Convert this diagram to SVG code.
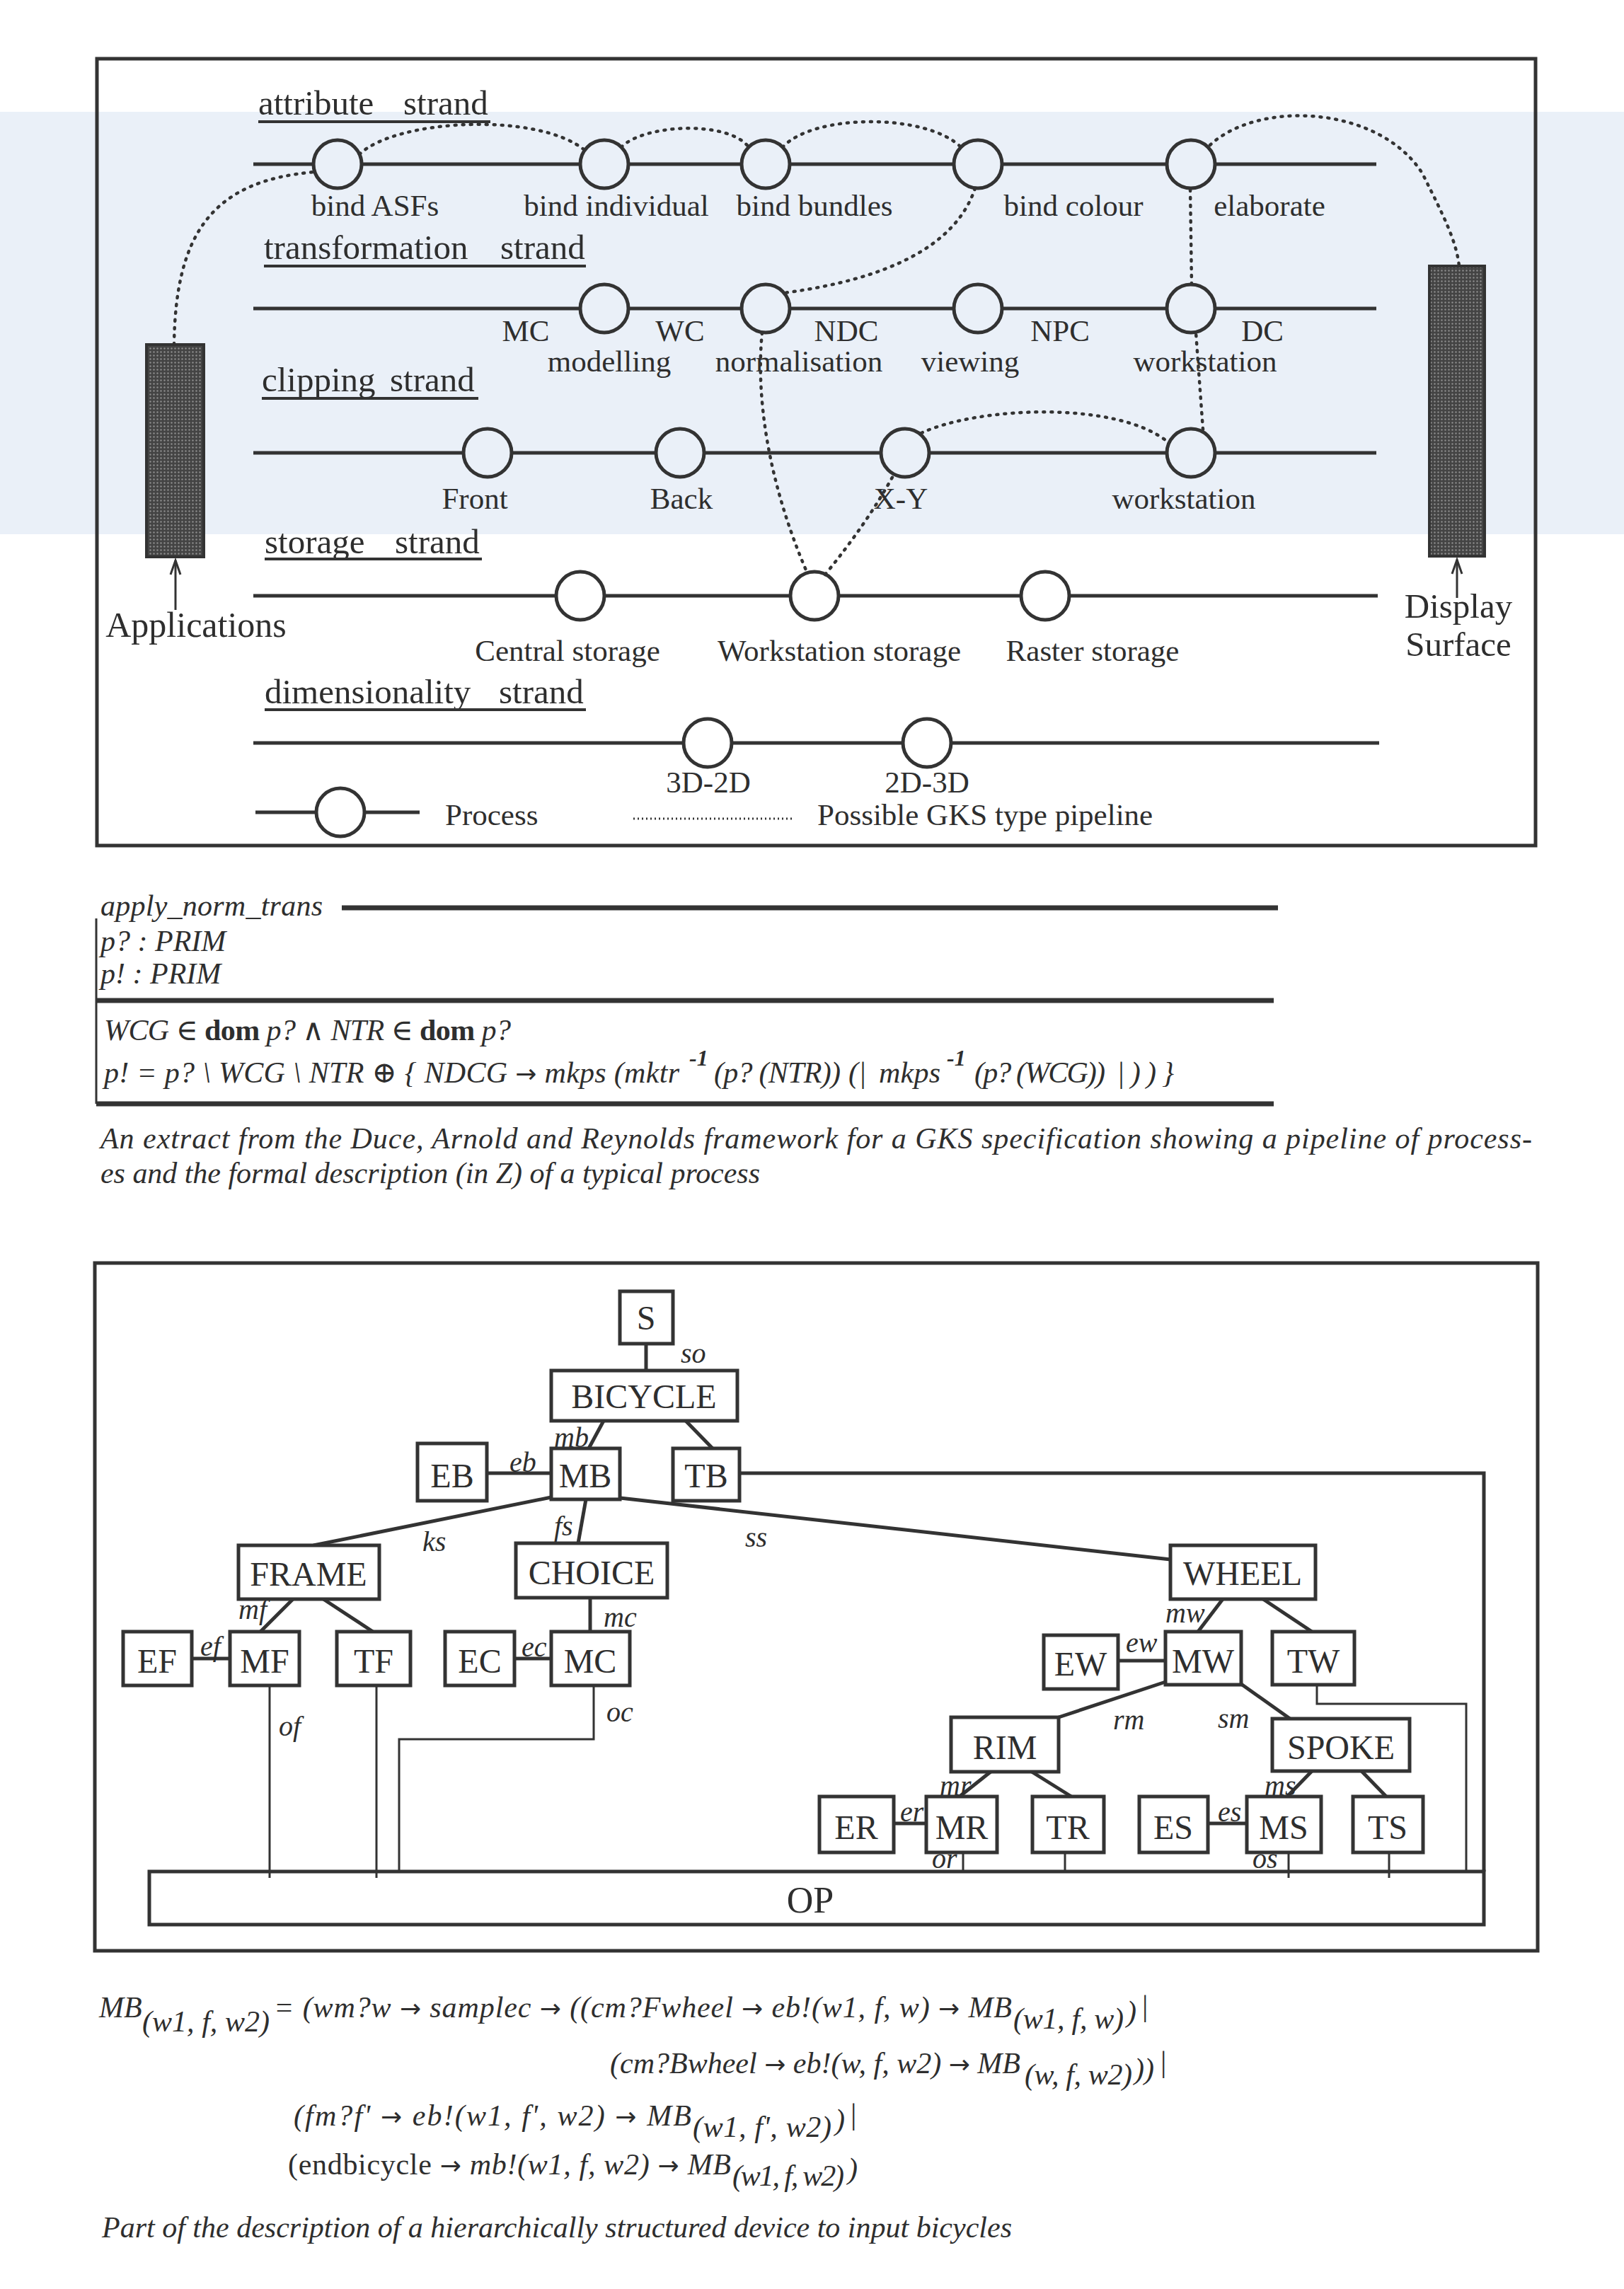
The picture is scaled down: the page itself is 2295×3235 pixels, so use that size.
<svg xmlns="http://www.w3.org/2000/svg" width="2295" height="3235" viewBox="0 0 2295 3235">
<defs>
<style>
.t{font-family:"Liberation Serif","DejaVu Serif",serif;fill:#2e2e2e}
.lab{font-size:43px}
.hd{font-size:49px}
.big{font-size:50px}
.z{font-size:42px;font-style:italic}
.nd{font-size:48px;text-anchor:middle}
.el{font-size:40px;font-style:italic}
.mid{text-anchor:middle}
.ar{font-family:"DejaVu Sans",sans-serif;font-style:normal;font-size:36px}
.ln{stroke:#333;stroke-width:5;fill:none}
.ul{stroke:#333;stroke-width:4}
.thin{stroke:#333;stroke-width:3;fill:none}
.proc{stroke:#333;stroke-width:5;fill:#eaf0f8}
.procw{stroke:#333;stroke-width:5;fill:#fff}
.dot{stroke:#333;stroke-width:4.5;fill:none;stroke-dasharray:2 9;stroke-linecap:round}
.nb{fill:#fff;stroke:#333;stroke-width:5}
.rule{stroke:#333;stroke-width:7}
.b{font-weight:bold;font-style:normal}
.sup{font-size:32px;font-weight:bold}
</style>
<pattern id="hatch" width="5" height="5" patternUnits="userSpaceOnUse">
<rect width="5" height="5" fill="#444"/>
<circle cx="2.5" cy="2.5" r="1.2" fill="#8c8c8c"/>
</pattern>
<marker id="ah" markerUnits="userSpaceOnUse" markerWidth="30" markerHeight="30" refX="0" refY="0" orient="auto" overflow="visible">
<path d="M-20,-7 L0,0 L-20,7" fill="none" stroke="#333" stroke-width="3"/>
</marker>
</defs>
<rect width="2295" height="3235" fill="#fff"/>
<rect x="0" y="158" width="2295" height="597" fill="#eaf0f8"/>

<!-- ================= TOP DIAGRAM ================= -->
<rect x="137" y="83" width="2033" height="1112" fill="none" stroke="#333" stroke-width="5"/>

<g id="headings" class="t hd">
<text x="365" y="162">attribute</text><text x="570" y="162">strand</text>
<text x="373" y="366">transformation</text><text x="707" y="366">strand</text>
<text x="370" y="553">clipping</text><text x="551" y="553">strand</text>
<text x="374" y="782">storage</text><text x="558" y="782">strand</text>
<text x="374" y="994">dimensionality</text><text x="705" y="994">strand</text>
</g>
<g id="underlines" class="ul">
<line x1="365" y1="172" x2="693" y2="172"/>
<line x1="373" y1="376" x2="828" y2="376"/>
<line x1="370" y1="563" x2="676" y2="563"/>
<line x1="374" y1="790" x2="681" y2="790"/>
<line x1="374" y1="1003" x2="828" y2="1003"/>
</g>

<g id="connectors">
<line class="ln" x1="358" y1="232" x2="1945" y2="232"/>
<line class="ln" x1="358" y1="436" x2="1945" y2="436"/>
<line class="ln" x1="358" y1="640" x2="1945" y2="640"/>
<line class="ln" x1="358" y1="842" x2="1947" y2="842"/>
<line class="ln" x1="358" y1="1050" x2="1949" y2="1050"/>
<line class="ln" x1="361" y1="1148" x2="593" y2="1148"/>
<line x1="248" y1="862" x2="248" y2="792" stroke="#333" stroke-width="3" marker-end="url(#ah)"/>
<line x1="2059" y1="845" x2="2059" y2="791" stroke="#333" stroke-width="3" marker-end="url(#ah)"/>
</g>

<g id="applications">
<rect x="207" y="487" width="81" height="300" fill="url(#hatch)" stroke="#333" stroke-width="4"/>
<text class="t big mid" x="277" y="900">Applications</text>
</g>
<g id="display-surface">
<rect x="2020" y="376" width="78" height="410" fill="url(#hatch)" stroke="#333" stroke-width="4"/>
<text class="t hd mid" x="2061" y="873">Display</text>
<text class="t hd mid" x="2061" y="927">Surface</text>
</g>

<g class="t lab mid">
<g id="bind-asfs"><circle class="proc" cx="477" cy="232" r="34"/><text x="530" y="305">bind ASFs</text></g>
<g id="bind-individual"><circle class="proc" cx="854" cy="232" r="34"/><text x="871" y="305">bind individual</text></g>
<g id="bind-bundles"><circle class="proc" cx="1082" cy="232" r="34"/><text x="1151" y="305">bind bundles</text></g>
<g id="bind-colour"><circle class="proc" cx="1382" cy="232" r="34"/><text x="1517" y="305">bind colour</text></g>
<g id="elaborate"><circle class="proc" cx="1683" cy="232" r="34"/><text x="1794" y="305">elaborate</text></g>

<g id="modelling"><circle class="proc" cx="854" cy="436" r="34"/><text x="743" y="482">MC</text><text x="961" y="482">WC</text><text x="861" y="525">modelling</text></g>
<g id="normalisation"><circle class="proc" cx="1082" cy="436" r="34"/><text x="1196" y="482">NDC</text><text x="1129" y="525">normalisation</text></g>
<g id="viewing"><circle class="proc" cx="1382" cy="436" r="34"/><text x="1498" y="482">NPC</text><text x="1371" y="525">viewing</text></g>
<g id="workstation-t"><circle class="proc" cx="1683" cy="436" r="34"/><text x="1784" y="482">DC</text><text x="1703" y="525">workstation</text></g>

<g id="front"><circle class="proc" cx="689" cy="640" r="34"/><text x="671" y="719">Front</text></g>
<g id="back"><circle class="proc" cx="961" cy="640" r="34"/><text x="963" y="719">Back</text></g>
<g id="x-y"><circle class="proc" cx="1279" cy="640" r="34"/><text x="1273" y="719">X-Y</text></g>
<g id="workstation-c"><circle class="proc" cx="1683" cy="640" r="34"/><text x="1673" y="719">workstation</text></g>

<g id="central-storage"><circle class="procw" cx="820" cy="842" r="34"/><text x="802" y="934">Central storage</text></g>
<g id="workstation-storage"><circle class="procw" cx="1151" cy="842" r="34"/><text x="1186" y="934">Workstation storage</text></g>
<g id="raster-storage"><circle class="procw" cx="1477" cy="842" r="34"/><text x="1544" y="934">Raster storage</text></g>

<g id="d3d-2d"><circle class="procw" cx="1000" cy="1050" r="34"/><text x="1001" y="1120">3D-2D</text></g>
<g id="d2d-3d"><circle class="procw" cx="1310" cy="1050" r="34"/><text x="1310" y="1120">2D-3D</text></g>
</g>

<g id="legend" class="t lab">
<circle class="procw" cx="481" cy="1148" r="34"/>
<text x="629" y="1166">Process</text>
<line x1="895" y1="1157" x2="1119" y2="1157" stroke="#333" stroke-width="3" stroke-dasharray="2 4"/>
<text x="1155" y="1166">Possible GKS type pipeline</text>
</g>

<g id="pipeline" class="dot">
<path d="M246,487 C248,330 300,255 445,243"/>
<path d="M508,218 C560,168 760,158 826,212"/>
<path d="M878,208 C910,175 1030,170 1058,208"/>
<path d="M1106,208 C1150,160 1310,160 1358,208"/>
<path d="M1378,266 C1350,350 1250,395 1108,414"/>
<path d="M1077,470 C1068,560 1085,680 1140,808"/>
<path d="M1166,812 Q1225,740 1263,671"/>
<path d="M1302,612 C1380,575 1580,565 1652,626"/>
<path d="M1700,607 L1690,470"/>
<path d="M1684,402 L1682,266"/>
<path d="M1710,205 C1780,140 1950,150 2010,245 C2040,305 2058,340 2062,376"/>
</g>

<!-- ================= Z SCHEMA ================= -->
<g id="z-schema" class="t z">
<text x="142" y="1294" textLength="314">apply_norm_trans</text>
<line class="rule" x1="483" y1="1283" x2="1806" y2="1283"/>
<line x1="136" y1="1298" x2="136" y2="1560" stroke="#333" stroke-width="3"/>
<text x="142" y="1344">p? : PRIM</text>
<text x="142" y="1390">p! : PRIM</text>
<line class="rule" x1="136" y1="1414" x2="1800" y2="1414"/>
<text x="147" y="1470" textLength="575">WCG ∈ <tspan class="b">dom</tspan> p? ∧ NTR ∈ <tspan class="b">dom</tspan> p?</text>
<text x="147" y="1530" textLength="813">p! = p? \ WCG \ NTR ⊕ { NDCG <tspan class="ar">→</tspan> mkps (mktr</text>
<text class="sup" x="974" y="1506">-1</text>
<text x="1009" y="1530" textLength="179">(p? (NTR))</text>
<text x="1199" y="1530">(|</text>
<text x="1242" y="1530" textLength="87">mkps</text>
<text class="sup" x="1338" y="1506">-1</text>
<text x="1377" y="1530" textLength="185">(p? (WCG))</text>
<text x="1578" y="1530" textLength="81">|))}</text>
<line class="rule" x1="136" y1="1560" x2="1800" y2="1560"/>
</g>
<g id="caption-1" class="t z">
<text x="142" y="1623" textLength="2023">An extract from the Duce, Arnold and Reynolds framework for a GKS specification showing a pipeline of process-</text>
<text x="142" y="1672" textLength="932">es and the formal description (in Z) of a typical process</text>
</g>

<!-- ================= TREE DIAGRAM ================= -->
<rect x="134" y="1785" width="2039" height="972" fill="none" stroke="#333" stroke-width="5"/>

<g id="tree-connectors">
<g class="ln">
<line x1="913" y1="1899" x2="913" y2="1937"/>
<line x1="853" y1="2008" x2="832" y2="2047"/>
<line x1="969" y1="2008" x2="1007" y2="2047"/>
<line x1="688" y1="2082" x2="779" y2="2082"/>
<polyline points="1045,2082 2097,2082 2097,2645"/>
<line x1="779" y1="2116" x2="443" y2="2184"/>
<line x1="828" y1="2119" x2="817" y2="2181"/>
<line x1="876" y1="2117" x2="1654" y2="2204"/>
<line x1="414" y1="2260" x2="368" y2="2306"/>
<line x1="457" y1="2260" x2="527" y2="2306"/>
<line x1="834" y1="2258" x2="834" y2="2306"/>
<line x1="271" y1="2344" x2="325" y2="2344"/>
<line x1="727" y1="2344" x2="779" y2="2344"/>
<line x1="1728" y1="2260" x2="1693" y2="2306"/>
<line x1="1785" y1="2260" x2="1854" y2="2306"/>
<line x1="1580" y1="2347" x2="1647" y2="2347"/>
<line x1="1647" y1="2377" x2="1496" y2="2427"/>
<line x1="1754" y1="2380" x2="1823" y2="2429"/>
<line x1="1400" y1="2504" x2="1356" y2="2539"/>
<line x1="1458" y1="2504" x2="1514" y2="2539"/>
<line x1="1854" y1="2503" x2="1819" y2="2539"/>
<line x1="1924" y1="2503" x2="1959" y2="2539"/>
<line x1="1263" y1="2577" x2="1309" y2="2577"/>
<line x1="1707" y1="2577" x2="1762" y2="2577"/>
</g>
<g class="thin">
<line x1="381" y1="2382" x2="381" y2="2654"/>
<line x1="532" y1="2382" x2="532" y2="2654"/>
<polyline points="839,2382 839,2458 564,2458 564,2645"/>
<polyline points="1861,2381 1861,2408 2072,2408 2072,2645"/>
<line x1="1361" y1="2618" x2="1361" y2="2645"/>
<line x1="1505" y1="2618" x2="1505" y2="2645"/>
<line x1="1821" y1="2618" x2="1821" y2="2654"/>
<line x1="1963" y1="2618" x2="1963" y2="2654"/>
</g>
<g class="t el">
<text x="962" y="1926">so</text>
<text x="783" y="2045">mb</text>
<text x="720" y="2080">eb</text>
<text x="597" y="2192">ks</text>
<text x="783" y="2170">fs</text>
<text x="1053" y="2186">ss</text>
<text x="337" y="2288">mf</text>
<text x="853" y="2299">mc</text>
<text x="283" y="2340">ef</text>
<text x="737" y="2341">ec</text>
<text x="394" y="2453">of</text>
<text x="857" y="2433">oc</text>
<text x="1647" y="2293">mw</text>
<text x="1591" y="2335">ew</text>
<text x="1573" y="2444">rm</text>
<text x="1721" y="2442">sm</text>
<text x="1328" y="2537">mr</text>
<text x="1787" y="2537">ms</text>
<text x="1272" y="2574">er</text>
<text x="1721" y="2574">es</text>
<text x="1317" y="2640">or</text>
<text x="1770" y="2640">os</text>
</g>
</g>

<g class="t">
<g id="n-S"><rect class="nb" x="876" y="1825" width="75" height="74"/><text class="nd" x="913" y="1879">S</text></g>
<g id="n-BICYCLE"><rect class="nb" x="779" y="1937" width="263" height="71"/><text class="nd" x="910" y="1990">BICYCLE</text></g>
<g id="n-EB"><rect class="nb" x="590" y="2040" width="98" height="81"/><text class="nd" x="639" y="2102">EB</text></g>
<g id="n-MB"><rect class="nb" x="779" y="2047" width="97" height="72"/><text class="nd" x="827" y="2102">MB</text></g>
<g id="n-TB"><rect class="nb" x="951" y="2047" width="94" height="74"/><text class="nd" x="998" y="2102">TB</text></g>
<g id="n-FRAME"><rect class="nb" x="337" y="2184" width="199" height="76"/><text class="nd" x="436" y="2241">FRAME</text></g>
<g id="n-CHOICE"><rect class="nb" x="729" y="2181" width="214" height="77"/><text class="nd" x="836" y="2239">CHOICE</text></g>
<g id="n-WHEEL"><rect class="nb" x="1654" y="2184" width="205" height="76"/><text class="nd" x="1756" y="2240">WHEEL</text></g>
<g id="n-EF"><rect class="nb" x="174" y="2306" width="97" height="76"/><text class="nd" x="222" y="2364">EF</text></g>
<g id="n-MF"><rect class="nb" x="325" y="2306" width="98" height="76"/><text class="nd" x="374" y="2364">MF</text></g>
<g id="n-TF"><rect class="nb" x="476" y="2306" width="104" height="76"/><text class="nd" x="528" y="2364">TF</text></g>
<g id="n-EC"><rect class="nb" x="629" y="2306" width="98" height="76"/><text class="nd" x="678" y="2364">EC</text></g>
<g id="n-MC"><rect class="nb" x="779" y="2306" width="111" height="76"/><text class="nd" x="834" y="2364">MC</text></g>
<g id="n-EW"><rect class="nb" x="1475" y="2311" width="105" height="76"/><text class="nd" x="1527" y="2368">EW</text></g>
<g id="n-MW"><rect class="nb" x="1647" y="2306" width="107" height="75"/><text class="nd" x="1700" y="2364">MW</text></g>
<g id="n-TW"><rect class="nb" x="1798" y="2306" width="116" height="75"/><text class="nd" x="1856" y="2364">TW</text></g>
<g id="n-RIM"><rect class="nb" x="1344" y="2427" width="152" height="77"/><text class="nd" x="1420" y="2486">RIM</text></g>
<g id="n-SPOKE"><rect class="nb" x="1798" y="2429" width="194" height="74"/><text class="nd" x="1895" y="2486">SPOKE</text></g>
<g id="n-ER"><rect class="nb" x="1158" y="2539" width="105" height="79"/><text class="nd" x="1210" y="2599">ER</text></g>
<g id="n-MR"><rect class="nb" x="1309" y="2539" width="100" height="79"/><text class="nd" x="1359" y="2599">MR</text></g>
<g id="n-TR"><rect class="nb" x="1459" y="2539" width="101" height="79"/><text class="nd" x="1509" y="2599">TR</text></g>
<g id="n-ES"><rect class="nb" x="1610" y="2539" width="97" height="79"/><text class="nd" x="1658" y="2599">ES</text></g>
<g id="n-MS"><rect class="nb" x="1762" y="2539" width="105" height="79"/><text class="nd" x="1814" y="2599">MS</text></g>
<g id="n-TS"><rect class="nb" x="1912" y="2539" width="99" height="79"/><text class="nd" x="1961" y="2599">TS</text></g>
<g id="n-OP"><rect x="211" y="2645" width="1886" height="75" fill="none" stroke="#333" stroke-width="5"/><text class="nd" x="1145" y="2703" style="font-size:52px">OP</text></g>
</g>

<!-- ================= EQUATION ================= -->
<g id="equation" class="t z">
<text x="140" y="2851">MB</text>
<text x="201" y="2871" textLength="180">(w1, f, w2)</text>
<text x="387" y="2851" textLength="1043">= (wm?w <tspan class="ar">→</tspan> samplec <tspan class="ar">→</tspan> ((cm?Fwheel <tspan class="ar">→</tspan> eb!(w1, f, w) <tspan class="ar">→</tspan> MB</text>
<text x="1432" y="2867" textLength="156">(w1, f, w)</text>
<text x="1592" y="2857">)</text>
<text x="1614" y="2849" style="font-style:normal">|</text>

<text x="862" y="2930" textLength="580">(cm?Bwheel <tspan class="ar">→</tspan> eb!(w, f, w2) <tspan class="ar">→</tspan> MB</text>
<text x="1448" y="2946" textLength="152">(w, f, w2)</text>
<text x="1603" y="2938">))</text>
<text x="1640" y="2928" style="font-style:normal">|</text>

<text x="415" y="3004" textLength="562">(fm?f' <tspan class="ar">→</tspan> eb!(w1, f', w2) <tspan class="ar">→</tspan> MB</text>
<text x="979" y="3020" textLength="196">(w1, f', w2)</text>
<text x="1180" y="3010">)</text>
<text x="1202" y="3002" style="font-style:normal">|</text>

<text x="407" y="3073" textLength="626"><tspan style="font-style:normal">(endbicycle</tspan> <tspan class="ar">→</tspan> mb!(w1, f, w2) <tspan class="ar">→</tspan> MB</text>
<text x="1035" y="3089" textLength="158">(w1, f, w2)</text>
<text x="1198" y="3079">)</text>
</g>
<g id="caption-2" class="t z">
<text x="144" y="3162" textLength="1286">Part of the description of a hierarchically structured device to input bicycles</text>
</g>
</svg>
